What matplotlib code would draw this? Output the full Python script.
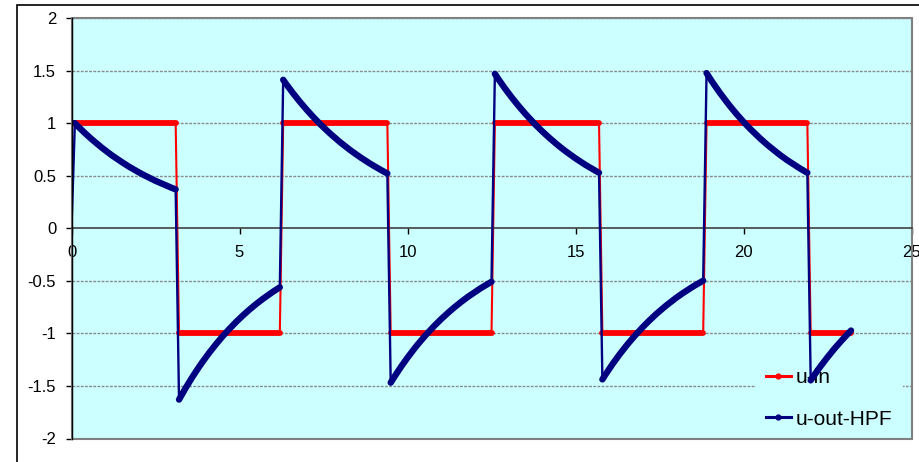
import numpy as np
import matplotlib
matplotlib.use("Agg")
import matplotlib.pyplot as plt
from matplotlib.patches import Rectangle
from matplotlib.lines import Line2D

# sample times (step 0.1 from 0 to 23.2)
dt = 0.1
t = np.round(np.arange(0, 23.2 + dt / 2, dt), 1)

# u-in: square wave, levels and how many samples each level lasts
u_in_levels = [1, -1, 1, -1, 1, -1, 1, -1]
u_in_counts = [32, 31, 32, 31, 32, 31, 31, 13]

# u-out-HPF, one list per half period
u_out_start = [0.0]
u_out_seg1 = [1.000, 0.967, 0.936, 0.905, 0.876, 0.847, 0.820, 0.793, 0.767, 0.742,
              0.718, 0.694, 0.672, 0.650, 0.629, 0.608, 0.588, 0.569, 0.551, 0.533,
              0.515, 0.499, 0.482, 0.467, 0.451, 0.437, 0.422, 0.409, 0.395, 0.382,
              0.370]
u_out_seg2 = [-1.630, -1.573, -1.518, -1.465, -1.414, -1.365, -1.317, -1.271, -1.227, -1.184,
              -1.143, -1.103, -1.065, -1.027, -0.992, -0.957, -0.924, -0.891, -0.860, -0.830,
              -0.801, -0.773, -0.746, -0.720, -0.695, -0.671, -0.648, -0.625, -0.603, -0.582,
              -0.562]
u_out_seg3 = [1.412, 1.367, 1.324, 1.282, 1.242, 1.202, 1.164, 1.127, 1.092, 1.057,
              1.024, 0.991, 0.960, 0.930, 0.900, 0.872, 0.844, 0.817, 0.792, 0.766,
              0.742, 0.719, 0.696, 0.674, 0.653, 0.632, 0.612, 0.593, 0.574, 0.556,
              0.538, 0.521]
u_out_seg4 = [-1.469, -1.418, -1.369, -1.321, -1.276, -1.231, -1.189, -1.147, -1.107, -1.069,
              -1.032, -0.996, -0.962, -0.928, -0.896, -0.865, -0.835, -0.806, -0.778, -0.751,
              -0.725, -0.700, -0.676, -0.652, -0.630, -0.608, -0.587, -0.566, -0.547, -0.528,
              -0.509]
u_out_seg5 = [1.469, 1.421, 1.375, 1.330, 1.287, 1.245, 1.205, 1.166, 1.128, 1.091,
              1.056, 1.022, 0.988, 0.956, 0.925, 0.895, 0.866, 0.838, 0.811, 0.784,
              0.759, 0.734, 0.711, 0.687, 0.665, 0.644, 0.623, 0.602, 0.583, 0.564,
              0.546, 0.528]
u_out_seg6 = [-1.438, -1.388, -1.340, -1.293, -1.249, -1.205, -1.164, -1.123, -1.084, -1.047,
              -1.010, -0.975, -0.941, -0.909, -0.877, -0.847, -0.817, -0.789, -0.762, -0.735,
              -0.710, -0.685, -0.661, -0.638, -0.616, -0.595, -0.574, -0.554, -0.535, -0.517,
              -0.499]
u_out_seg7 = [1.476, 1.426, 1.378, 1.332, 1.287, 1.244, 1.202, 1.161, 1.122, 1.084,
              1.048, 1.012, 0.978, 0.945, 0.914, 0.883, 0.853, 0.824, 0.796, 0.770,
              0.744, 0.719, 0.694, 0.671, 0.648, 0.627, 0.605, 0.585, 0.565, 0.546,
              0.528]
u_out_seg8 = [-1.447, -1.400, -1.354, -1.310, -1.268, -1.227, -1.187, -1.148, -1.111, -1.075,
              -1.040, -1.006, -0.973]

y_ticks = [2, 1.5, 1, 0.5, 0, -0.5, -1, -1.5, -2]
y_labels = ["2", "1.5", "1", "0.5", "0", "-0.5", "-1", "-1.5", "-2"]
x_ticks = [0, 5, 10, 15, 20, 25]
x_labels = ["0", "5", "10", "15", "20", "25"]

u_in = np.repeat(u_in_levels, u_in_counts).astype(float)
u_out = np.array(u_out_start + u_out_seg1 + u_out_seg2 + u_out_seg3 + u_out_seg4
                 + u_out_seg5 + u_out_seg6 + u_out_seg7 + u_out_seg8)


def break_at_jumps(x, y):
    # NaN between samples where the signal jumps, so the thick marker trail stops there
    idx = np.where(np.abs(np.diff(y)) > 0.5)[0] + 1
    return np.insert(x.astype(float), idx, np.nan), np.insert(y, idx, np.nan)


plt.rcParams['font.family'] = ['Liberation Sans', 'DejaVu Sans']
plt.rcParams['axes.unicode_minus'] = False

W, H = 919, 462
fig = plt.figure(figsize=(W / 100, H / 100), dpi=100)
fig.patch.set_facecolor("white")
ax = fig.add_axes([71.5 / W, 1 - 438.5 / H, 840 / W, 420.5 / H])
ax.set_facecolor("#CCFFFF")

# outer chart border (runs off the right and bottom of the picture)
fig.patches.append(Rectangle((17 / W, -0.5), 2, 0.5 + 1 - 5 / H, transform=fig.transFigure,
                             fill=False, edgecolor="black", lw=1.2))

ax.set_xlim(0, 25)
ax.set_ylim(-2, 2)
for yv in y_ticks:
    if yv != 0:
        ax.axhline(yv, color="#8a8a8a", lw=1.0, ls=(0, (2, 1)), zorder=0.5)
ax.add_patch(Rectangle((0, 0), 1, 1, transform=ax.transAxes, fill=False,
                       edgecolor="#808080", lw=1.5, zorder=1.6, clip_on=False))

red, navy = "#FF0000", "#000080"
# thin line through every sample (shows the jumps), thick trail of dense markers
ax.plot(t, u_in, color=red, lw=1.5, zorder=2)
ax.plot(*break_at_jumps(t, u_in), color=red, lw=4.2, solid_capstyle="round", zorder=2)
ax.plot(t, u_out, color=navy, lw=1.7, zorder=3)
ax.plot(*break_at_jumps(t, u_out), color=navy, lw=4.6, solid_capstyle="round", zorder=3)

for s in ["top", "right"]:
    ax.spines[s].set_visible(False)
ax.spines["bottom"].set_position(("data", 0))
ax.spines["bottom"].set_color("#404040")
ax.spines["bottom"].set_linewidth(1.2)
ax.spines["left"].set_color("black")
ax.spines["left"].set_linewidth(1.0)
ax.spines["left"].set_zorder(6)

ax.set_yticks(y_ticks)
ax.set_yticklabels(y_labels)
ax.set_xticks(x_ticks)
ax.set_xticklabels(x_labels)
ax.tick_params(axis="y", direction="out", length=4, width=1, labelsize=12, pad=7)
ax.tick_params(axis="x", direction="out", length=4, width=1, labelsize=12, pad=8)

handles = [Line2D([], [], color=red, lw=2.2, marker="o", ms=4.5, mew=0),
           Line2D([], [], color=navy, lw=2.2, marker="o", ms=4.5, mew=0)]
leg = ax.legend(handles, ["u-in", "u-out-HPF"], loc="lower right",
                bbox_to_anchor=(1 - 9 / 840, 0), borderaxespad=0, borderpad=0.47,
                fontsize=15, handlelength=1.2, handletextpad=0.25, labelspacing=1.1,
                frameon=True, fancybox=False, facecolor="#CCFFFF", edgecolor="none")
leg.get_frame().set_alpha(1)
leg.set_zorder(1.5)

fig.savefig("out.png", dpi=100)
